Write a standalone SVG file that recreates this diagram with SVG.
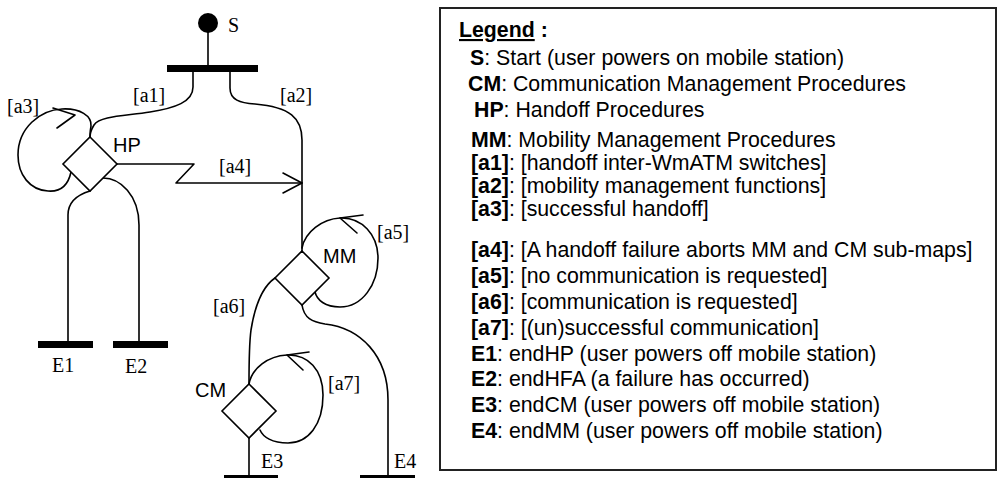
<svg xmlns="http://www.w3.org/2000/svg" width="998" height="478" viewBox="0 0 998 478">
<style>
.ln{fill:none;stroke:#000;stroke-width:1.6;stroke-linejoin:round;stroke-linecap:round}
.dm{fill:#fff;stroke:#000;stroke-width:1.6}
.bar{fill:#000}
.sf{font-family:"Liberation Serif","Times New Roman",serif;font-size:20px;fill:#000}
.ss{font-family:"Liberation Sans",Arial,sans-serif;font-size:20px;fill:#000}
.lg{font-family:"Liberation Sans",Arial,sans-serif;font-size:21.3px;fill:#000}
.b{font-weight:bold}
</style>
<g id="connectors">
  <line class="ln" x1="208" y1="30" x2="208" y2="66"/>
  <path id="a1" class="ln" d="M193,72 V87 C193,102 175,108 150,112 C125,116 100,116 94,125 C91,130 90,134 90,137"/>
  <path id="a2" class="ln" d="M230,72 V88 C230,100 240,103 255,104 C290,107 302,118 302,140 V251"/>
  <path id="a3" class="ln" d="M71,172 C68,186 60,192 48,191 C30,190 18,175 18,155 C18,128 40,110 62,109 C80,108 92,116 91,126 C90,131 90,134 90,137"/>
  <path class="ln" d="M53,108 L75,115 L57,128"/>
  <path id="a4" class="ln" d="M117,164 H194 L176,183 H302"/>
  <path class="ln" d="M283,173 L302,183 L283,193"/>
  <path id="toE1" class="ln" d="M90,191 C80,194 68,200 68,215 V341"/>
  <path id="toE2" class="ln" d="M103,178 C120,178 139,195 139,225 V341"/>
  <path id="a5" class="ln" d="M302,248 C305,232 322,219 340,218 C362,217 378,235 378,258 C378,285 362,307 340,307 C325,307 317,300 315,292"/>
  <path class="ln" d="M363,215 L340,218 L357,233"/>
  <path id="a6" class="ln" d="M275,278 C262,287 255,305 251,330 C249,345 249,360 249,384"/>
  <path id="a7" class="ln" d="M249,384 C252,368 268,356 287,355 C308,354 323,370 323,395 C323,425 308,443 288,443 C272,443 263,437 260,430"/>
  <path class="ln" d="M309,352 L287,355 L303,370"/>
  <path id="toE3" class="ln" d="M249,438 V476"/>
  <path id="toE4" class="ln" d="M302,305 C304,318 312,322 325,324 C360,328 388,355 388,400 V476"/>
</g>
<g id="S">
  <circle cx="208" cy="23" r="10" fill="#000"/>
  <text class="sf" x="228" y="32">S</text>
</g>
<g id="fork">
  <rect class="bar" x="167" y="65" width="91" height="7"/>
</g>
<g id="HP">
  <polygon class="dm" points="90,137 117,164 90,191 63,164"/>
  <text class="ss" x="113" y="152">HP</text>
</g>
<g id="MM">
  <polygon class="dm" points="302,251 329,278 302,305 275,278"/>
  <text class="ss" x="323" y="263">MM</text>
</g>
<g id="CM">
  <polygon class="dm" points="249,384 276,411 249,438 222,411"/>
  <text class="ss" x="195" y="397">CM</text>
</g>
<g id="E1">
  <rect class="bar" x="38" y="341" width="55" height="7"/>
  <text class="sf" x="52" y="372">E1</text>
</g>
<g id="E2">
  <rect class="bar" x="113" y="341" width="55" height="7"/>
  <text class="sf" x="125" y="373">E2</text>
</g>
<g id="E3">
  <rect class="bar" x="224" y="475" width="54" height="7"/>
  <text class="sf" x="261" y="468">E3</text>
</g>
<g id="E4">
  <rect class="bar" x="360" y="475" width="55" height="7"/>
  <text class="sf" x="394" y="468">E4</text>
</g>
<g id="labels">
  <text class="sf" x="133" y="102">[a1]</text>
  <text class="sf" x="280" y="102">[a2]</text>
  <text class="sf" x="7" y="113">[a3]</text>
  <text class="sf" x="219" y="173">[a4]</text>
  <text class="sf" x="377" y="239">[a5]</text>
  <text class="sf" x="213" y="313">[a6]</text>
  <text class="sf" x="328" y="390">[a7]</text>
</g>
<g id="legend">
  <rect x="440" y="8" width="556" height="462" fill="none" stroke="#222" stroke-width="2"/>
  <text class="lg b" x="459" y="37"><tspan text-decoration="underline">Legend</tspan> :</text>
  <text class="lg" x="470" y="65"><tspan class="b">S</tspan>: Start (user powers on mobile station)</text>
  <text class="lg" x="468" y="91"><tspan class="b">CM</tspan>: Communication Management Procedures</text>
  <text class="lg" x="474" y="117"><tspan class="b">HP</tspan>: Handoff Procedures</text>
  <text class="lg" x="471" y="147"><tspan class="b">MM</tspan>: Mobility Management Procedures</text>
  <text class="lg" x="471" y="170"><tspan class="b">[a1]</tspan>: [handoff inter-WmATM switches]</text>
  <text class="lg" x="471" y="193"><tspan class="b">[a2]</tspan>: [mobility management functions]</text>
  <text class="lg" x="471" y="216"><tspan class="b">[a3]</tspan>: [successful handoff]</text>
  <text class="lg" x="471" y="257"><tspan class="b">[a4]</tspan>: [A handoff failure aborts MM and CM sub-maps]</text>
  <text class="lg" x="471" y="283"><tspan class="b">[a5]</tspan>: [no communication is requested]</text>
  <text class="lg" x="471" y="309"><tspan class="b">[a6]</tspan>: [communication is requested]</text>
  <text class="lg" x="471" y="335"><tspan class="b">[a7]</tspan>: [(un)successful communication]</text>
  <text class="lg" x="471" y="361"><tspan class="b">E1</tspan>: endHP (user powers off mobile station)</text>
  <text class="lg" x="471" y="386"><tspan class="b">E2</tspan>: endHFA (a failure has occurred)</text>
  <text class="lg" x="471" y="412"><tspan class="b">E3</tspan>: endCM (user powers off mobile station)</text>
  <text class="lg" x="471" y="438"><tspan class="b">E4</tspan>: endMM (user powers off mobile station)</text>
</g>
</svg>
